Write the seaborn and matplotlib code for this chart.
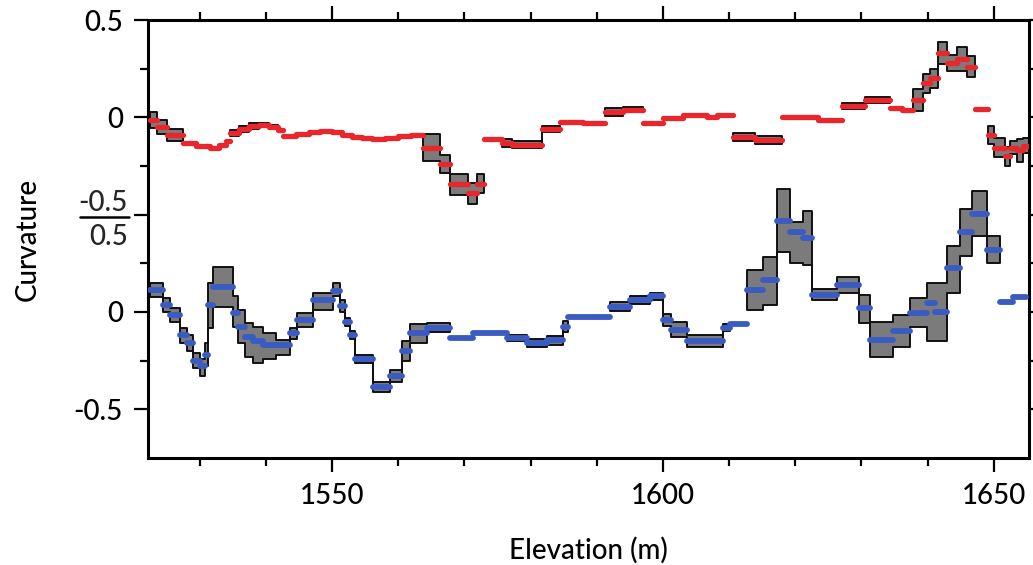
import numpy as np
import pandas as pd
import matplotlib
matplotlib.use("Agg")
import matplotlib.pyplot as plt
from matplotlib.ticker import MultipleLocator, FixedLocator
from matplotlib.lines import Line2D
import seaborn as sns

# ---------------- data ----------------
# Upper series (red): step segments, left edge elevation, curvature value, band half-width
red_start = [1522.5, 1523.6, 1525.1, 1527.5, 1529.5, 1531.5, 1533.0, 1534.0, 1534.6, 1536.0,
             1537.5, 1539.0, 1540.5, 1541.8, 1542.6, 1544.5, 1546.5, 1548.2, 1550.0, 1551.5,
             1553.0, 1554.5, 1556.0, 1558.0, 1560.0, 1562.0, 1563.7, 1566.3, 1567.8, 1570.5,
             1571.9, 1573.0, 1575.7, 1577.2, 1581.7, 1584.4, 1587.9, 1591.2, 1594.0, 1597.0,
             1600.0, 1603.0, 1606.6, 1608.2, 1610.6, 1613.9, 1618.0, 1623.4, 1627.0, 1630.5,
             1634.3, 1636.2, 1637.8, 1639.3, 1640.3, 1641.5, 1643.0, 1644.4, 1645.9, 1647.1,
             1649.1, 1650.1, 1651.7, 1652.4, 1653.5, 1654.4]
red_end = 1655.4
red_val = [-0.015, -0.05, -0.09, -0.13, -0.145, -0.155, -0.14, -0.12, -0.08, -0.06,
           -0.045, -0.04, -0.05, -0.065, -0.095, -0.085, -0.075, -0.07, -0.075, -0.09,
           -0.10, -0.105, -0.11, -0.105, -0.095, -0.09, -0.155, -0.24, -0.345, -0.39,
           -0.34, -0.11, -0.13, -0.14, -0.06, -0.025, -0.03, 0.026, 0.04, -0.03,
           -0.005, 0.01, 0.0, 0.01, -0.10, -0.115, 0.0, -0.015, 0.06, 0.09,
           0.05, 0.04, 0.09, 0.175, 0.2, 0.33, 0.28, 0.30, 0.26, 0.045,
           -0.09, -0.155, -0.20, -0.155, -0.17, -0.145]
red_err = [0.04, 0.035, 0.03, 0, 0, 0, 0, 0, 0.015, 0.015,
           0.015, 0.01, 0.01, 0, 0, 0, 0, 0, 0, 0,
           0, 0, 0, 0, 0, 0, 0.07, 0.045, 0.055, 0.055,
           0.05, 0, 0.02, 0.02, 0.015, 0, 0, 0.02, 0.015, 0,
           0, 0, 0, 0, 0.02, 0.02, 0, 0, 0.015, 0.015,
           0, 0, 0.055, 0.05, 0.05, 0.055, 0.04, 0.06, 0.055, 0,
           0.045, 0.05, 0.05, 0.035, 0.06, 0.04]

# Lower series (blue): left edge, value, band low, band high (nan = no band)
nan = np.nan
blue_start = [1522.5, 1524.5, 1525.5, 1527.0, 1528.1, 1529.0, 1530.1, 1530.8, 1531.3, 1532.0,
              1535.0, 1535.8, 1536.9, 1538.1, 1539.6, 1541.5, 1543.7, 1544.7, 1547.1, 1550.1,
              1551.2, 1551.9, 1552.7, 1553.5, 1556.2, 1558.8, 1560.6, 1561.8, 1564.3, 1567.8,
              1571.3, 1576.4, 1579.4, 1582.5, 1584.9, 1585.6, 1592.0, 1595.0, 1598.0, 1600.0,
              1601.3, 1603.6, 1609.1, 1610.2, 1612.7, 1615.1, 1617.2, 1619.2, 1621.1, 1622.6,
              1626.3, 1629.7, 1631.3, 1634.7, 1637.3, 1639.9, 1641.1, 1642.9, 1644.9, 1646.7,
              1649.0, 1650.9, 1652.9]
blue_end = 1654.8
blue_val = [0.113, 0.036, -0.015, -0.12, -0.16, -0.25, -0.28, -0.22, 0.036, 0.13,
            -0.005, -0.075, -0.13, -0.15, -0.17, -0.17, -0.11, -0.04, 0.06, 0.11,
            0.03, -0.05, -0.12, -0.24, -0.385, -0.33, -0.20, -0.11, -0.08, -0.135,
            -0.11, -0.135, -0.16, -0.145, -0.075, -0.025, 0.027, 0.06, 0.08, -0.04,
            -0.09, -0.15, -0.08, -0.06, 0.113, 0.165, 0.47, 0.41, 0.38, 0.088,
            0.14, 0.02, -0.145, -0.10, -0.005, 0.046, 0.0, 0.225, 0.41, 0.505,
            0.32, 0.05, 0.077]
blue_lo = [0.077, 0.0, -0.05, -0.16, -0.20, -0.29, -0.33, -0.28, -0.08, 0.026,
           -0.075, -0.16, -0.23, -0.26, -0.24, -0.22, -0.14, -0.077, 0.01, 0.08,
           0.0, -0.07, -0.14, -0.26, -0.41, -0.36, -0.25, -0.16, -0.105, nan,
           nan, -0.15, -0.18, -0.17, -0.105, nan, 0.005, 0.04, 0.06, -0.07,
           -0.13, -0.18, -0.10, nan, 0.01, 0.036, 0.31, 0.25, 0.24, 0.062,
           0.10, -0.057, -0.23, -0.18, -0.077, -0.15, -0.15, 0.10, 0.29, 0.39,
           0.25, nan, nan]
blue_hi = [0.15, 0.07, 0.02, -0.08, -0.12, -0.21, -0.24, -0.16, 0.15, 0.23,
           0.08, 0.01, -0.057, -0.077, -0.11, -0.145, -0.08, -0.005, 0.10, 0.15,
           0.06, -0.03, -0.10, -0.22, -0.36, -0.30, -0.15, -0.06, -0.055, nan,
           nan, -0.12, -0.14, -0.125, -0.045, nan, 0.05, 0.08, 0.10, -0.01,
           -0.05, -0.12, -0.06, nan, 0.216, 0.28, 0.63, 0.46, 0.52, 0.12,
           0.18, 0.088, -0.05, -0.015, 0.072, 0.15, 0.15, 0.34, 0.53, 0.62,
           0.39, nan, nan]

red_offset = 1.0  # upper panel is stacked one unit above the lower one

# ---------------- figure ----------------
sns.set_theme(style="ticks")
plt.rcParams["font.family"] = ["Lato", "DejaVu Sans"]

fig = plt.figure(figsize=(10.33, 5.65), dpi=100)
ax = fig.add_axes([0.1433, 0.1894, 0.8533, 0.7752])


def draw_series(starts, end, vals, lo, hi, offset, color, lw):
    ends = list(starts[1:]) + [end]
    df = pd.DataFrame(dict(x0=starts, x1=ends, v=vals, lo=lo, hi=hi))
    has = (df.lo.notna() & df.hi.notna()).to_numpy()
    i = 0
    n = len(df)
    while i < n:
        if has[i]:
            j = i
            while j + 1 < n and has[j + 1]:
                j += 1
            seg = df.iloc[i:j + 1]
            xs = list(seg.x0) + [seg.x1.iloc[-1]]
            l = np.array(list(seg.lo) + [seg.lo.iloc[-1]]) + offset
            h = np.array(list(seg.hi) + [seg.hi.iloc[-1]]) + offset
            ax.fill_between(xs, l, h, step="post", facecolor="#7b7b7b",
                            edgecolor="#111111", linewidth=1.4, zorder=2)
            i = j + 1
        else:
            i += 1
    ok = df.v.notna()
    ax.hlines(df.v[ok] + offset, df.x0[ok], df.x1[ok], colors=color,
              linewidth=lw, capstyle="round", zorder=3)


red_lo = [v - e if e > 0 else np.nan for v, e in zip(red_val, red_err)]
red_hi = [v + e if e > 0 else np.nan for v, e in zip(red_val, red_err)]
draw_series(red_start, red_end, red_val, red_lo, red_hi, red_offset, "#e8262b", 3.8)
draw_series(blue_start, blue_end, blue_val, blue_lo, blue_hi, 0.0, "#3a5cc2", 4.2)

ax.set_xlim(1522.2, 1655.4)
ax.set_ylim(-0.75, 1.5)

ax.set_xticks([1550, 1600, 1650])
ax.xaxis.set_minor_locator(MultipleLocator(10))
ax.set_yticks([-0.5, 0, 0.5, 1.0, 1.5])
ax.set_yticklabels(["-0.5", "0", "", "0", "0.5"])
ax.yaxis.set_minor_locator(FixedLocator([-0.25, 0.25, 0.75, 1.25]))

ax.tick_params(which="both", direction="out", top=True, right=True,
               labeltop=False, labelright=False, color="black", width=1.6)
ax.tick_params(which="major", length=10, labelsize=20, pad=8, labelcolor="black")
ax.tick_params(which="minor", length=6)
for lab in ax.get_xticklabels() + ax.get_yticklabels():
    lab.set_fontweight("medium")

for sp in ax.spines.values():
    sp.set_visible(True)
    sp.set_color("black")
    sp.set_linewidth(2.2)

ax.set_xlabel("Elevation (m)", fontsize=20, color="black", fontweight="medium")
ax.set_ylabel("Curvature", fontsize=20, color="black", fontweight="medium")
ax.xaxis.set_label_coords(0.5, -0.18)
ax.yaxis.set_label_coords(-0.122, 0.5)

# split label at the seam between the two stacked panels
fig.text(128 / 1033, 1 - 216 / 565, "-0.5", ha="right", va="bottom", fontsize=20,
         fontweight="medium")
fig.text(128 / 1033, 1 - 224 / 565, "0.5", ha="right", va="top", fontsize=20,
         fontweight="medium")
fig.add_artist(Line2D([80 / 1033, 129 / 1033], [1 - 217 / 565, 1 - 217 / 565],
                      color="black", linewidth=1.8))

fig.savefig("out.png", dpi=100)
